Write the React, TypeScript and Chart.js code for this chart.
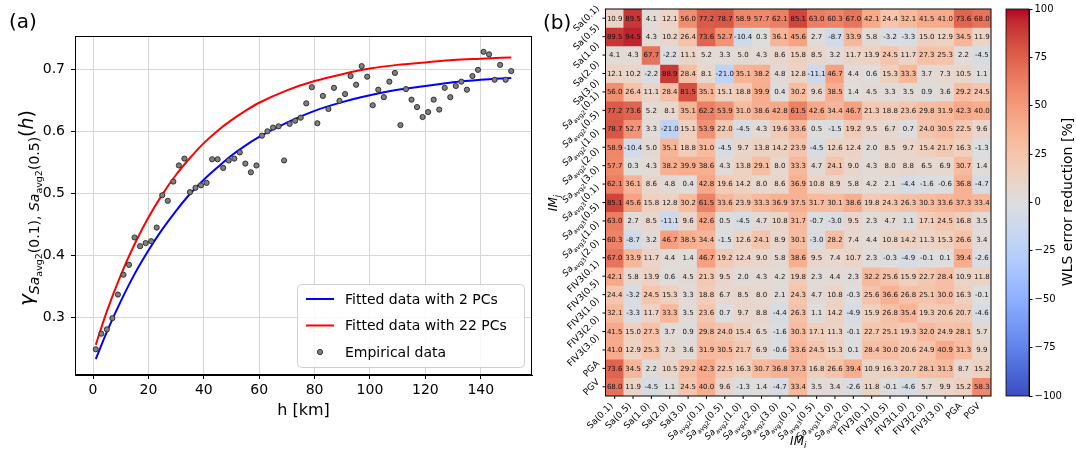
import React, { useEffect, useRef } from 'react';
import { Chart, registerables } from 'chart.js';
Chart.register(...registerables);

const FONT = '"DejaVu Sans", sans-serif';

// ---------------- panel (a) data ----------------
const hEmpirical = [1, 3, 5, 7, 9, 11, 13, 15, 17, 19, 21, 23, 25, 27, 29, 31, 33, 35, 37, 39, 41, 43, 45, 47, 49, 51, 53, 55, 57, 59, 61, 63, 65, 67, 69, 71, 73, 75, 77, 79, 81, 83, 85, 87, 89, 91, 93, 95, 97, 99, 101, 103, 105, 107, 109, 111, 113, 115, 117, 119, 121, 123, 125, 127, 129, 131, 133, 135, 137, 139, 141, 143, 145, 147, 149, 151];
const gammaEmpirical = [0.249, 0.274, 0.281, 0.299, 0.337, 0.369, 0.385, 0.429, 0.415, 0.42,
  0.423, 0.445, 0.497, 0.488, 0.519, 0.545, 0.556, 0.502, 0.509, 0.513,
  0.517, 0.555, 0.555, 0.541, 0.553, 0.556, 0.566, 0.548, 0.534, 0.545,
  0.593, 0.6, 0.606, 0.608, 0.553, 0.612, 0.617, 0.622, 0.645, 0.671,
  0.613, 0.657, 0.636, 0.67, 0.649, 0.66, 0.689, 0.675, 0.705, 0.688,
  0.642, 0.667, 0.655, 0.68, 0.694, 0.61, 0.668, 0.651, 0.639, 0.623,
  0.631, 0.651, 0.635, 0.67, 0.655, 0.673, 0.68, 0.667, 0.689, 0.699,
  0.728, 0.724, 0.683, 0.707, 0.683, 0.697];
const hFitted = [1, 5, 10, 15, 20, 25, 30, 35, 40, 45, 50, 55, 60, 70, 80, 90, 100, 110, 120, 130, 140, 151];
const gammaFit2PCs = [0.233, 0.277, 0.326, 0.37, 0.408, 0.442, 0.472, 0.499, 0.522, 0.542, 0.561, 0.577, 0.591, 0.614, 0.633, 0.647, 0.658, 0.667, 0.673, 0.679, 0.683, 0.686];
const gammaFit22PCs = [0.256, 0.31, 0.368, 0.418, 0.461, 0.498, 0.53, 0.557, 0.581, 0.601, 0.618, 0.633, 0.646, 0.666, 0.681, 0.692, 0.701, 0.707, 0.711, 0.715, 0.717, 0.719];
const hTicks = [0, 20, 40, 60, 80, 100, 120, 140];
const gammaTicks = [0.3, 0.4, 0.5, 0.6, 0.7];

// ---------------- panel (b) data ----------------
const imLabels = ['Sa(0.1)', 'Sa(0.5)', 'Sa(1.0)', 'Sa(2.0)', 'Sa(3.0)',
  'Sa_avg2(0.1)', 'Sa_avg2(0.5)', 'Sa_avg2(1.0)', 'Sa_avg2(2.0)', 'Sa_avg2(3.0)',
  'Sa_avg3(0.1)', 'Sa_avg3(0.5)', 'Sa_avg3(1.0)', 'Sa_avg3(2.0)',
  'FIV3(0.1)', 'FIV3(0.5)', 'FIV3(1.0)', 'FIV3(2.0)', 'FIV3(3.0)', 'PGA', 'PGV'];
const errorReduction = [
  [10.9, 89.5, 4.1, 12.1, 56.0, 77.2, 78.7, 58.9, 57.7, 62.1, 85.1, 63.0, 60.3, 67.0, 42.1, 24.4, 32.1, 41.5, 41.0, 73.6, 68.0],
  [89.5, 94.5, 4.3, 10.2, 26.4, 73.6, 52.7, -10.4, 0.3, 36.1, 45.6, 2.7, -8.7, 33.9, 5.8, -3.2, -3.3, 15.0, 12.9, 34.5, 11.9],
  [4.1, 4.3, 67.7, -2.2, 11.1, 5.2, 3.3, 5.0, 4.3, 8.6, 15.8, 8.5, 3.2, 11.7, 13.9, 24.5, 11.7, 27.3, 25.3, 2.2, -4.5],
  [12.1, 10.2, -2.2, 88.9, 28.4, 8.1, -21.0, 35.1, 38.2, 4.8, 12.8, -11.1, 46.7, 4.4, 0.6, 15.3, 33.3, 3.7, 7.3, 10.5, 1.1],
  [56.0, 26.4, 11.1, 28.4, 81.5, 35.1, 15.1, 18.8, 39.9, 0.4, 30.2, 9.6, 38.5, 1.4, 4.5, 3.3, 3.5, 0.9, 3.6, 29.2, 24.5],
  [77.2, 73.6, 5.2, 8.1, 35.1, 62.2, 53.9, 31.0, 38.6, 42.8, 61.5, 42.6, 34.4, 46.7, 21.3, 18.8, 23.6, 29.8, 31.9, 42.3, 40.0],
  [78.7, 52.7, 3.3, -21.0, 15.1, 53.9, 22.0, -4.5, 4.3, 19.6, 33.6, 0.5, -1.5, 19.2, 9.5, 6.7, 0.7, 24.0, 30.5, 22.5, 9.6],
  [58.9, -10.4, 5.0, 35.1, 18.8, 31.0, -4.5, 9.7, 13.8, 14.2, 23.9, -4.5, 12.6, 12.4, 2.0, 8.5, 9.7, 15.4, 21.7, 16.3, -1.3],
  [57.7, 0.3, 4.3, 38.2, 39.9, 38.6, 4.3, 13.8, 29.1, 8.0, 33.3, 4.7, 24.1, 9.0, 4.3, 8.0, 8.8, 6.5, 6.9, 30.7, 1.4],
  [62.1, 36.1, 8.6, 4.8, 0.4, 42.8, 19.6, 14.2, 8.0, 8.6, 36.9, 10.8, 8.9, 5.8, 4.2, 2.1, -4.4, -1.6, -0.6, 36.8, -4.7],
  [85.1, 45.6, 15.8, 12.8, 30.2, 61.5, 33.6, 23.9, 33.3, 36.9, 37.5, 31.7, 30.1, 38.6, 19.8, 24.3, 26.3, 30.3, 33.6, 37.3, 33.4],
  [63.0, 2.7, 8.5, -11.1, 9.6, 42.6, 0.5, -4.5, 4.7, 10.8, 31.7, -0.7, -3.0, 9.5, 2.3, 4.7, 1.1, 17.1, 24.5, 16.8, 3.5],
  [60.3, -8.7, 3.2, 46.7, 38.5, 34.4, -1.5, 12.6, 24.1, 8.9, 30.1, -3.0, 28.2, 7.4, 4.4, 10.8, 14.2, 11.3, 15.3, 26.6, 3.4],
  [67.0, 33.9, 11.7, 4.4, 1.4, 46.7, 19.2, 12.4, 9.0, 5.8, 38.6, 9.5, 7.4, 10.7, 2.3, -0.3, -4.9, -0.1, 0.1, 39.4, -2.6],
  [42.1, 5.8, 13.9, 0.6, 4.5, 21.3, 9.5, 2.0, 4.3, 4.2, 19.8, 2.3, 4.4, 2.3, 32.2, 25.6, 15.9, 22.7, 28.4, 10.9, 11.8],
  [24.4, -3.2, 24.5, 15.3, 3.3, 18.8, 6.7, 8.5, 8.0, 2.1, 24.3, 4.7, 10.8, -0.3, 25.6, 36.6, 26.8, 25.1, 30.0, 16.3, -0.1],
  [32.1, -3.3, 11.7, 33.3, 3.5, 23.6, 0.7, 9.7, 8.8, -4.4, 26.3, 1.1, 14.2, -4.9, 15.9, 26.8, 35.4, 19.3, 20.6, 20.7, -4.6],
  [41.5, 15.0, 27.3, 3.7, 0.9, 29.8, 24.0, 15.4, 6.5, -1.6, 30.3, 17.1, 11.3, -0.1, 22.7, 25.1, 19.3, 32.0, 24.9, 28.1, 5.7],
  [41.0, 12.9, 25.3, 7.3, 3.6, 31.9, 30.5, 21.7, 6.9, -0.6, 33.6, 24.5, 15.3, 0.1, 28.4, 30.0, 20.6, 24.9, 40.9, 31.3, 9.9],
  [73.6, 34.5, 2.2, 10.5, 29.2, 42.3, 22.5, 16.3, 30.7, 36.8, 37.3, 16.8, 26.6, 39.4, 10.9, 16.3, 20.7, 28.1, 31.3, 8.7, 15.2],
  [68.0, 11.9, -4.5, 1.1, 24.5, 40.0, 9.6, -1.3, 1.4, -4.7, 33.4, 3.5, 3.4, -2.6, 11.8, -0.1, -4.6, 5.7, 9.9, 15.2, 58.3],
];
const colorbarTicks = [-100, -75, -50, -25, 0, 25, 50, 75, 100];

// coolwarm colormap stops
const CW: number[][] = [
  [59, 76, 192], [68, 90, 204], [77, 104, 215], [87, 117, 225], [98, 130, 234], [108, 142, 241],
  [119, 154, 247], [130, 165, 251], [141, 176, 254], [152, 185, 255], [163, 194, 255], [174, 201, 253],
  [184, 208, 249], [194, 213, 244], [204, 217, 238], [213, 219, 230], [221, 221, 221], [229, 216, 209],
  [236, 211, 197], [241, 204, 184], [245, 196, 172], [247, 187, 159], [247, 177, 147], [247, 166, 134],
  [244, 154, 123], [241, 141, 111], [236, 127, 99], [229, 112, 89], [222, 96, 77], [213, 80, 66],
  [203, 62, 56], [192, 40, 47], [180, 4, 38],
];
function coolwarm(v: number): string {
  const t = Math.max(0, Math.min(1, (v + 100) / 200));
  const p = t * (CW.length - 1);
  const i = Math.min(CW.length - 2, Math.floor(p));
  const f = p - i;
  const a = CW[i], b = CW[i + 1];
  const c = [0, 1, 2].map(k => Math.round(a[k] + (b[k] - a[k]) * f));
  return `rgb(${c[0]},${c[1]},${c[2]})`;
}

type Seg = { t: string; size: number; dy?: number; italic?: boolean };
const segFont = (s: Seg) => `${s.italic ? 'italic ' : ''}${s.size}px ${FONT}`;
function segsWidth(ctx: CanvasRenderingContext2D, segs: Seg[]) {
  let w = 0;
  for (const s of segs) { ctx.font = segFont(s); w += ctx.measureText(s.t).width; }
  return w;
}
function drawSegs(ctx: CanvasRenderingContext2D, segs: Seg[], x: number, y: number) {
  ctx.textAlign = 'left';
  ctx.textBaseline = 'alphabetic';
  let cx = x;
  for (const s of segs) {
    ctx.font = segFont(s);
    ctx.fillText(s.t, cx, y + (s.dy || 0));
    cx += ctx.measureText(s.t).width;
  }
}
function imSegs(label: string, size: number): Seg[] {
  const m = label.match(/^([^_(]+)(?:_([^(]+))?(\(.*\))?$/);
  if (!m) return [{ t: label, size }];
  const segs: Seg[] = [];
  if (m[2]) {
    segs.push({ t: m[1], size, italic: true });
    segs.push({ t: m[2], size: size * 0.7, dy: size * 0.3 });
  } else {
    segs.push({ t: m[1], size });
  }
  if (m[3]) segs.push({ t: m[3], size });
  return segs;
}

// ---------------- plugins ----------------
const framePlugin = {
  id: 'frame',
  afterDraw(chart: any) {
    const { ctx, chartArea: a } = chart;
    ctx.save();
    ctx.strokeStyle = '#000';
    ctx.lineWidth = 1;
    ctx.strokeRect(Math.round(a.left) + 0.5, Math.round(a.top) + 0.5, Math.round(a.right - a.left) - 1, Math.round(a.bottom - a.top) - 1);
    ctx.restore();
  },
};

const panelAPlugin = {
  id: 'panelA',
  afterDraw(chart: any) {
    const ctx: CanvasRenderingContext2D = chart.ctx;
    ctx.save();
    ctx.fillStyle = '#000';
    ctx.font = `20px ${FONT}`;
    ctx.textAlign = 'left';
    ctx.textBaseline = 'middle';
    ctx.fillText('(a)', 9, 23);
    // y-axis title
    const segs: Seg[] = [
      { t: 'γ', size: 20, italic: true },
      { t: 'Sa', size: 14, dy: 6, italic: true },
      { t: 'avg2', size: 9.5, dy: 9 },
      { t: '(0.1), ', size: 14, dy: 6 },
      { t: 'Sa', size: 14, dy: 6, italic: true },
      { t: 'avg2', size: 9.5, dy: 9 },
      { t: '(0.5)', size: 14, dy: 6 },
      { t: '(', size: 19 },
      { t: 'h', size: 19, italic: true },
      { t: ')', size: 19 },
    ];
    const w = segsWidth(ctx, segs);
    ctx.translate(33, 208);
    ctx.rotate(-Math.PI / 2);
    drawSegs(ctx, segs, -w / 2, 0);
    ctx.restore();

    // legend
    const bx = 297, by = 284, bw = 227, bh = 83;
    ctx.save();
    ctx.beginPath();
    (ctx as any).roundRect ? (ctx as any).roundRect(bx + 0.5, by + 0.5, bw, bh, 4) : ctx.rect(bx + 0.5, by + 0.5, bw, bh);
    ctx.fillStyle = 'rgba(255,255,255,0.85)';
    ctx.fill();
    ctx.strokeStyle = '#d0d0d0';
    ctx.lineWidth = 1;
    ctx.stroke();
    const ds = chart.data.datasets;
    const entries = [ds[2], ds[1], ds[0]];
    entries.forEach((d: any, k: number) => {
      const y = by + 15 + k * 26.5;
      if (d.showLine) {
        ctx.strokeStyle = d.borderColor;
        ctx.lineWidth = 2;
        ctx.beginPath();
        ctx.moveTo(306, y);
        ctx.lineTo(334, y);
        ctx.stroke();
      } else {
        ctx.beginPath();
        ctx.arc(320, y, 2.6, 0, Math.PI * 2);
        ctx.fillStyle = d.pointBackgroundColor;
        ctx.fill();
        ctx.strokeStyle = d.pointBorderColor;
        ctx.lineWidth = 0.9;
        ctx.stroke();
      }
      ctx.fillStyle = '#000';
      ctx.font = `14px ${FONT}`;
      ctx.textAlign = 'left';
      ctx.textBaseline = 'middle';
      ctx.fillText(d.label, 345, y + 1);
    });
    ctx.restore();
  },
};

const heatPlugin = {
  id: 'heat',
  afterDraw(chart: any) {
    const ctx: CanvasRenderingContext2D = chart.ctx;
    const a = chart.chartArea;
    const xs = chart.scales.x;
    const ys = chart.scales.y;
    ctx.save();
    // cell annotations
    ctx.fillStyle = '#111';
    ctx.font = `7px ${FONT}`;
    ctx.textAlign = 'center';
    ctx.textBaseline = 'middle';
    chart.data.datasets.forEach((_d: any, i: number) => {
      const meta = chart.getDatasetMeta(i);
      meta.data.forEach((bar: any, j: number) => {
        const p = bar.getProps(['x', 'y', 'base'], true);
        ctx.fillText(errorReduction[i][j].toFixed(1), p.x, (p.y + p.base) / 2 + 0.5);
      });
    });
    // frame
    ctx.strokeStyle = '#000';
    ctx.lineWidth = 1;
    ctx.strokeRect(a.left, a.top, a.right - a.left, a.bottom - a.top);
    // ticks and labels
    const tl = 3, pad = 1.5, fs = 9;
    ctx.fillStyle = '#000';
    imLabels.forEach((lab, i) => {
      const y = ys.getPixelForValue(i + 0.5);
      ctx.beginPath(); ctx.moveTo(a.left - tl, y); ctx.lineTo(a.left, y); ctx.stroke();
      const segs = imSegs(lab, fs);
      const w = segsWidth(ctx, segs);
      const bb = (w + fs * 1.1) * Math.SQRT1_2;
      ctx.save();
      ctx.translate(a.left - tl - pad - bb / 2, y);
      ctx.rotate(-Math.PI / 4);
      drawSegs(ctx, segs, -w / 2, fs * 0.36);
      ctx.restore();
    });
    imLabels.forEach((lab, j) => {
      const x = xs.getPixelForValue(j);
      ctx.beginPath(); ctx.moveTo(x, a.bottom); ctx.lineTo(x, a.bottom + tl); ctx.stroke();
      const segs = imSegs(lab, fs);
      const w = segsWidth(ctx, segs);
      const bb = (w + fs * 1.1) * Math.SQRT1_2;
      ctx.save();
      ctx.translate(x - bb / 2, a.bottom + tl + pad + bb / 2);
      ctx.rotate(-Math.PI / 4);
      drawSegs(ctx, segs, -w / 2, fs * 0.36);
      ctx.restore();
    });
    // axis titles
    const xt: Seg[] = [{ t: 'IM', size: 12, italic: true }, { t: 'i', size: 8.5, dy: 3, italic: true }];
    const xw = segsWidth(ctx, xt);
    drawSegs(ctx, xt, (a.left + a.right) / 2 - xw / 2, 445);
    const yt: Seg[] = [{ t: 'IM', size: 12, italic: true }, { t: 'j', size: 8.5, dy: 3, italic: true }];
    const yw = segsWidth(ctx, yt);
    ctx.save();
    ctx.translate(17, 203);
    ctx.rotate(-Math.PI / 2);
    drawSegs(ctx, yt, -yw / 2, 0);
    ctx.restore();
    // panel label
    ctx.font = `20px ${FONT}`;
    ctx.textAlign = 'left';
    ctx.textBaseline = 'middle';
    ctx.fillText('(b)', 3, 24);
    ctx.restore();
  },
};

const colorbarPlugin = {
  id: 'cbar',
  afterDraw(chart: any) {
    const ctx: CanvasRenderingContext2D = chart.ctx;
    const a = chart.chartArea;
    ctx.save();
    ctx.strokeStyle = '#000';
    ctx.lineWidth = 0.8;
    ctx.strokeRect(a.left, a.top, a.right - a.left, a.bottom - a.top);
    ctx.fillStyle = '#000';
    ctx.font = `14px ${FONT}`;
    ctx.textAlign = 'center';
    ctx.textBaseline = 'middle';
    ctx.translate(68, 202);
    ctx.rotate(-Math.PI / 2);
    ctx.fillText('WLS error reduction [%]', 0, 0);
    ctx.restore();
  },
};

// ---------------- configs ----------------
function configA(): any {
  const tickFont = { family: FONT, size: 14 };
  return {
    type: 'scatter',
    data: {
      datasets: [
        {
          label: 'Empirical data',
          data: hEmpirical.map((h, i) => ({ x: h, y: gammaEmpirical[i] })),
          pointRadius: 2.6,
          pointBackgroundColor: '#808080',
          pointBorderColor: '#262626',
          pointBorderWidth: 0.9,
          showLine: false,
        },
        {
          label: 'Fitted data with 22 PCs',
          data: hFitted.map((h, i) => ({ x: h, y: gammaFit22PCs[i] })),
          showLine: true,
          borderColor: '#ff0000',
          borderWidth: 2,
          pointRadius: 0,
          cubicInterpolationMode: 'monotone',
        },
        {
          label: 'Fitted data with 2 PCs',
          data: hFitted.map((h, i) => ({ x: h, y: gammaFit2PCs[i] })),
          showLine: true,
          borderColor: '#0000ff',
          borderWidth: 2,
          pointRadius: 0,
          cubicInterpolationMode: 'monotone',
        },
      ],
    },
    options: {
      animation: false,
      responsive: false,
      layout: { padding: { left: 0, right: 8, top: 36, bottom: 0 } },
      plugins: { legend: { display: false }, tooltip: { enabled: false } },
      scales: {
        x: {
          type: 'linear',
          min: -6.5,
          max: 158.5,
          afterBuildTicks: (s: any) => { s.ticks = hTicks.map(v => ({ value: v })); },
          afterFit: (s: any) => { s.height = 75; },
          ticks: { font: tickFont, color: '#000', padding: 3, callback: (v: any) => String(v) },
          grid: { color: '#d6d6d6', tickColor: '#000', tickLength: 4 },
          border: { color: '#000' },
          title: { display: true, text: 'h [km]', color: '#000', font: { family: FONT, size: 16 }, padding: { top: 0, bottom: 30 } },
        },
        y: {
          type: 'linear',
          min: 0.2075,
          max: 0.7535,
          afterBuildTicks: (s: any) => { s.ticks = gammaTicks.map(v => ({ value: v })); },
          afterFit: (s: any) => { s.width = 75; },
          ticks: { font: tickFont, color: '#000', padding: 6, callback: (v: any) => Number(v).toFixed(1) },
          grid: { color: '#d6d6d6', tickColor: '#000', tickLength: 4 },
          border: { color: '#000' },
        },
      },
    },
    plugins: [framePlugin, panelAPlugin],
  };
}

function configB(): any {
  return {
    type: 'bar',
    data: {
      labels: imLabels,
      datasets: errorReduction.map((row, i) => ({
        label: imLabels[i],
        data: row.map(() => [i, i + 1]),
        backgroundColor: row.map(v => coolwarm(v)),
        borderWidth: 0,
        barPercentage: 1,
        categoryPercentage: 1,
        grouped: false,
        inflateAmount: 0.4,
      })),
    },
    options: {
      animation: false,
      responsive: false,
      layout: { padding: { left: 0, right: 9, top: 9, bottom: 0 } },
      plugins: { legend: { display: false }, tooltip: { enabled: false } },
      scales: {
        x: {
          type: 'category',
          afterFit: (s: any) => { s.height = 54; },
          ticks: { display: false },
          grid: { display: false },
          border: { display: false },
        },
        y: {
          type: 'linear',
          min: 0,
          max: imLabels.length,
          reverse: true,
          afterFit: (s: any) => { s.width = 65.5; },
          ticks: { display: false },
          grid: { display: false },
          border: { display: false },
        },
      },
    },
    plugins: [heatPlugin],
  };
}

function configC(): any {
  return {
    type: 'bar',
    data: {
      labels: [''],
      datasets: [{
        data: [[colorbarTicks[0], colorbarTicks[colorbarTicks.length - 1]]],
        backgroundColor: (c: any) => {
          const ch = c.chart;
          const ys = ch.scales && ch.scales.y;
          if (!ch.chartArea || !ys) return '#ddd';
          const y0 = ys.getPixelForValue(-100), y1 = ys.getPixelForValue(100);
          const g = ch.ctx.createLinearGradient(0, y0, 0, y1);
          CW.forEach((rgb, k) => g.addColorStop(k / (CW.length - 1), `rgb(${rgb[0]},${rgb[1]},${rgb[2]})`));
          return g;
        },
        borderWidth: 0,
        barPercentage: 1,
        categoryPercentage: 1,
      }],
    },
    options: {
      animation: false,
      responsive: false,
      layout: { padding: { left: 6, right: 0, top: 9, bottom: 54 } },
      plugins: { legend: { display: false }, tooltip: { enabled: false } },
      scales: {
        x: { display: false },
        y: {
          position: 'right',
          min: -100,
          max: 100,
          afterBuildTicks: (s: any) => { s.ticks = colorbarTicks.map(v => ({ value: v })); },
          afterFit: (s: any) => { s.width = 47; },
          ticks: { font: { family: FONT, size: 10 }, color: '#000', padding: 2, callback: (v: any) => String(v).replace('-', '\u2212') },
          grid: { drawOnChartArea: false, drawTicks: true, tickLength: 3.5, tickColor: '#000' },
          border: { color: '#000' },
        },
      },
    },
    plugins: [colorbarPlugin],
  };
}

export default function App() {
  const aRef = useRef<HTMLCanvasElement>(null);
  const bRef = useRef<HTMLCanvasElement>(null);
  const cRef = useRef<HTMLCanvasElement>(null);
  useEffect(() => {
    const charts = [
      new Chart(aRef.current as HTMLCanvasElement, configA()),
      new Chart(bRef.current as HTMLCanvasElement, configB()),
      new Chart(cRef.current as HTMLCanvasElement, configC()),
    ];
    return () => charts.forEach(c => c.destroy());
  }, []);
  return (
    <div style={{ position: 'fixed', left: 0, top: 0, width: 1076, height: 450, background: '#fff', overflow: 'hidden' }}>
      <canvas ref={aRef} width={540} height={450} style={{ position: 'absolute', left: 0, top: 0, width: 540, height: 450 }} />
      <canvas ref={bRef} width={460} height={450} style={{ position: 'absolute', left: 540, top: 0, width: 460, height: 450 }} />
      <canvas ref={cRef} width={76} height={450} style={{ position: 'absolute', left: 1000, top: 0, width: 76, height: 450 }} />
    </div>
  );
}
